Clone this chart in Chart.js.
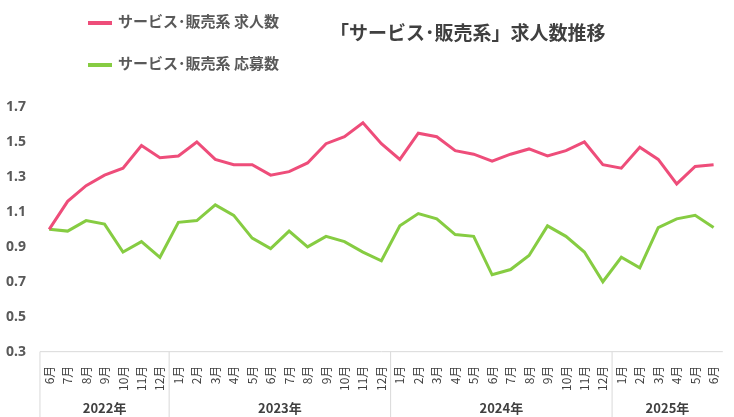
<!DOCTYPE html>
<html>
<head>
<meta charset="utf-8">
<script src="https://cdn.jsdelivr.net/npm/chart.js@4"></script>
<style>
  body { margin: 0; background: #fff; font-family: "Noto Sans CJK JP", sans-serif; }
  #wrap { position: relative; width: 734px; height: 417px; }
  .leg { position: absolute; left: 88px; font-size: 15px; font-weight: bold; color: #595959; }
  .leg span { display: inline-block; width: 24px; height: 4px; vertical-align: middle; margin-right: 6px; }
  #title { position: absolute; left: 330px; top: 18px; font-size: 19px; font-weight: bold; color: #404040; }
</style>
</head>
<body>
<div id="wrap">
  <canvas id="chart" width="734" height="417"></canvas>
  <div class="leg" style="top:10px"><span style="background:#ee4d7a"></span>サービス･販売系 求人数</div>
  <div class="leg" style="top:52px"><span style="background:#86cc42"></span>サービス･販売系 応募数</div>
  <div id="title">「サービス･販売系」求人数推移</div>
</div>
<script>
const months = ['6月','7月','8月','9月','10月','11月','12月',
  '1月','2月','3月','4月','5月','6月','7月','8月','9月','10月','11月','12月',
  '1月','2月','3月','4月','5月','6月','7月','8月','9月','10月','11月','12月',
  '1月','2月','3月','4月','5月','6月'];
const years = [
  { label: '2022年', from: 0, to: 6 },
  { label: '2023年', from: 7, to: 18 },
  { label: '2024年', from: 19, to: 30 },
  { label: '2025年', from: 31, to: 36 }
];
const jobs = [1.00, 1.16, 1.25, 1.31, 1.35, 1.48, 1.41, 1.42, 1.50, 1.40, 1.37, 1.37,
  1.31, 1.33, 1.38, 1.49, 1.53, 1.61, 1.49, 1.40, 1.55, 1.53, 1.45, 1.43,
  1.39, 1.43, 1.46, 1.42, 1.45, 1.50, 1.37, 1.35, 1.47, 1.40, 1.26, 1.36, 1.37];
const applicants = [1.00, 0.99, 1.05, 1.03, 0.87, 0.93, 0.84, 1.04, 1.05, 1.14, 1.08, 0.95,
  0.89, 0.99, 0.90, 0.96, 0.93, 0.87, 0.82, 1.02, 1.09, 1.06, 0.97, 0.96,
  0.74, 0.77, 0.85, 1.02, 0.96, 0.87, 0.70, 0.84, 0.78, 1.01, 1.06, 1.08, 1.01];
const yTicks = [0.3, 0.5, 0.7, 0.9, 1.1, 1.3, 1.5, 1.7];

const yearPlugin = {
  id: 'years',
  afterDraw(chart) {
    const c = chart.ctx, x = chart.scales.x, area = chart.chartArea;
    const step = x.getPixelForValue(1) - x.getPixelForValue(0);
    c.save();
    c.strokeStyle = '#d9d9d9';
    c.lineWidth = 1;
    c.beginPath();
    c.moveTo(area.left, area.bottom); c.lineTo(area.right, area.bottom);
    years.forEach(y => {
      const l = x.getPixelForValue(y.from) - step / 2;
      c.moveTo(l, area.bottom); c.lineTo(l, 417);
    });
    c.stroke();
    c.fillStyle = '#404040';
    c.font = 'bold 13px "Noto Sans CJK JP"';
    c.textAlign = 'center';
    c.textBaseline = 'middle';
    years.forEach(y => {
      const mid = (x.getPixelForValue(y.from) + x.getPixelForValue(y.to)) / 2;
      c.fillText(y.label, mid, 408);
    });
    c.restore();
  }
};

new Chart(document.getElementById('chart'), {
  type: 'line',
  data: {
    labels: months,
    datasets: [
      { label: '求人数', data: jobs, borderColor: '#ee4d7a', borderWidth: 3, pointRadius: 0, tension: 0 },
      { label: '応募数', data: applicants, borderColor: '#86cc42', borderWidth: 3, pointRadius: 0, tension: 0 }
    ]
  },
  options: {
    responsive: false,
    animation: false,
    layout: { padding: { top: 107, bottom: 20, right: 0, left: 0 } },
    plugins: { legend: { display: false }, tooltip: { enabled: false } },
    scales: {
      x: {
        offset: true,
        grid: { display: false },
        border: { display: false },
        ticks: { color: '#404040', font: { size: 12, family: 'Noto Sans CJK JP' }, minRotation: 90, maxRotation: 90, autoSkip: false, padding: 6 }
      },
      y: {
        min: 0.3, max: 1.7,
        afterBuildTicks: axis => { axis.ticks = yTicks.map(v => ({ value: v })); },
        grid: { display: false },
        border: { display: false },
        ticks: { color: '#595959', font: { size: 14, weight: 'bold', family: 'Noto Sans' }, callback: v => v.toFixed(1), padding: 6 }
      }
    }
  },
  plugins: [yearPlugin]
});
</script>
</body>
</html>
